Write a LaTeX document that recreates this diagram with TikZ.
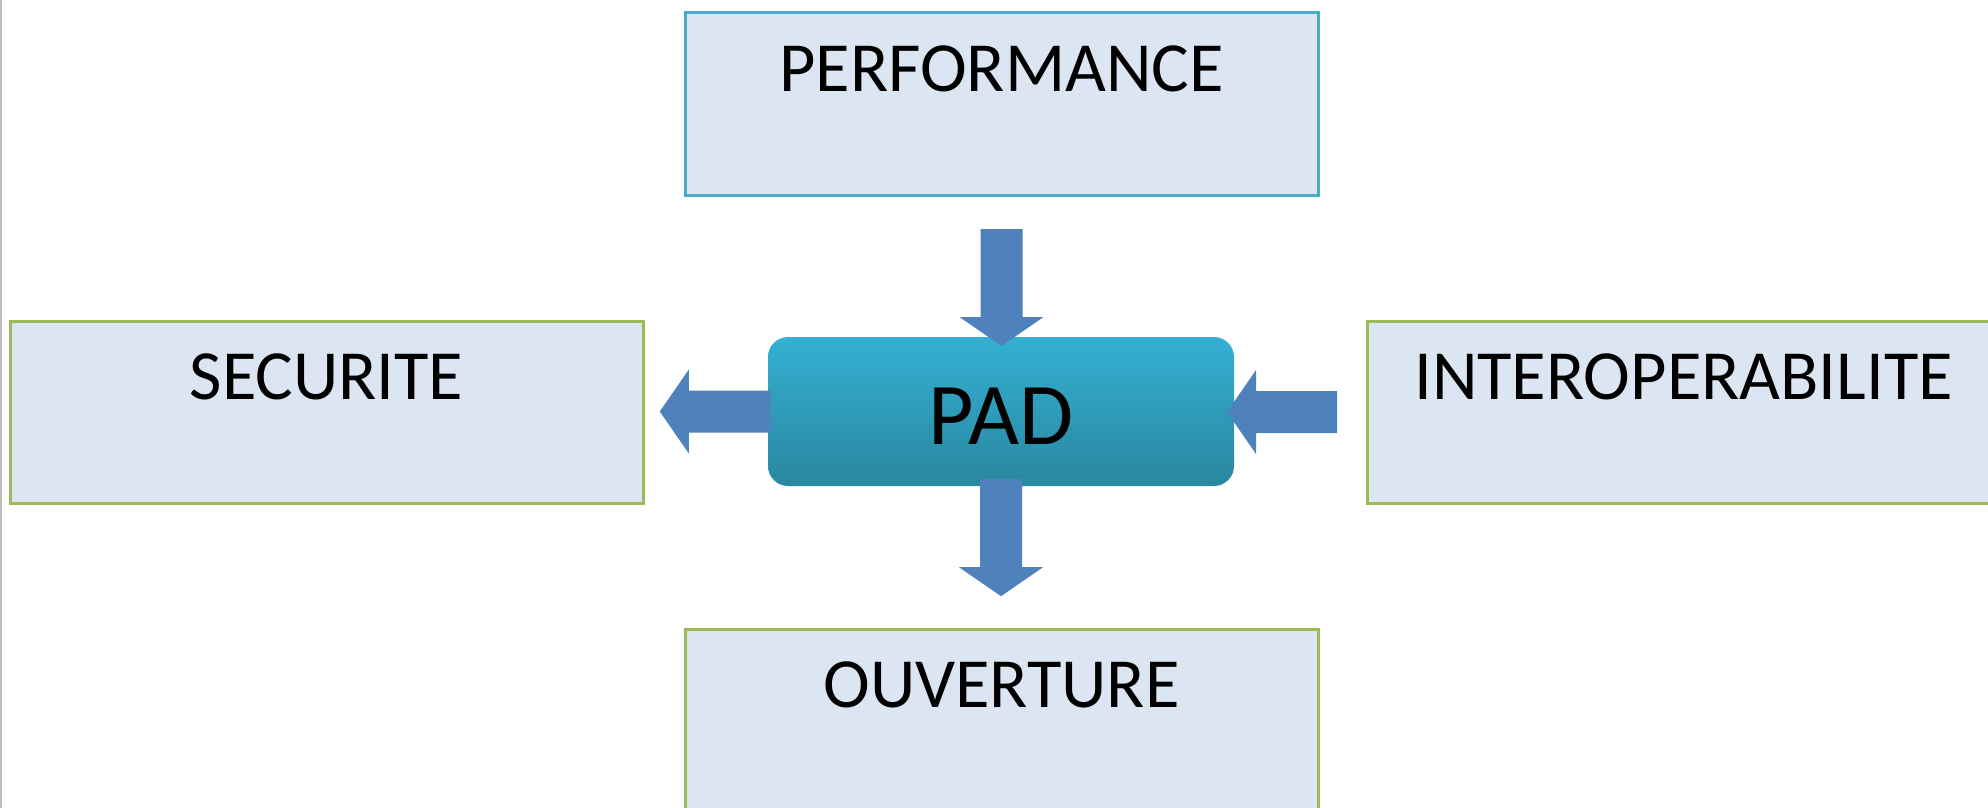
\documentclass[tikz,border=0pt]{standalone}
\usepackage{fontspec}
\setmainfont{Carlito}
\usetikzlibrary{calc}
\definecolor{boxfill}{RGB}{220,230,242}
\definecolor{aqualine}{RGB}{75,172,198}
\definecolor{greenline}{RGB}{155,187,89}
\definecolor{arrowblue}{RGB}{79,129,189}
\definecolor{padtop}{RGB}{52,176,210}
\definecolor{padbottom}{RGB}{41,135,160}
\tikzset{
    goalbox/.style={draw=greenline, fill=boxfill, line width=3pt,
        minimum width=633pt, inner xsep=0pt, inner ysep=0pt,
        text height=78.5pt, text depth=103.5pt,
        font=\fontsize{70.5}{80}\selectfont},
    padbox/.style={rounded corners=20pt, top color=padtop, bottom color=padbottom,
        minimum width=466pt, minimum height=149pt, inner sep=0pt,
        text height=65pt, text depth=0pt,
        font=\fontsize{88}{100}\selectfont},
    pics/padarrow/.style={code={
        \fill[arrowblue] (0,-21) -- ({#1-29},-21) -- ({#1-29},-42) -- (#1,0)
            -- ({#1-29},42) -- ({#1-29},21) -- (0,21) -- cycle;
    }}
}
\begin{document}
\begin{tikzpicture}[x=1pt,y=-1pt]
    \useasboundingbox (0,0) rectangle (1988,808);
    \clip (0,0) rectangle (1988,808);
    \draw[black!25, line width=1.5pt] (0.75,0) -- (0.75,808);
    %% the four goals
    \node[goalbox, draw=aqualine] (perf) at (1001.5,104) {PERFORMANCE};
    \node[goalbox] (secu) at (326.5,412) {SECURITE};
    \node[goalbox] (inter) at (1683.5,412) {INTEROPERABILITE};
    \node[goalbox] (ouv) at (1001.5,720) {OUVERTURE};
    %% PAD in the middle
    \node[padbox] (pad) at (1001,411.5) {PAD};
    %% block arrows
    \pic[rotate=-90] at ($(perf.south)+(0,32.5)$) {padarrow=117};
    \pic[rotate=-90] at ($(pad.south)+(0,-7)$) {padarrow=117};
    \pic[rotate=180] at ($(pad.west)+(3,0)$) {padarrow=111};
    \pic[rotate=180] at ($(inter.west)+(-28.5,0)$) {padarrow=110};
\end{tikzpicture}
\end{document}
